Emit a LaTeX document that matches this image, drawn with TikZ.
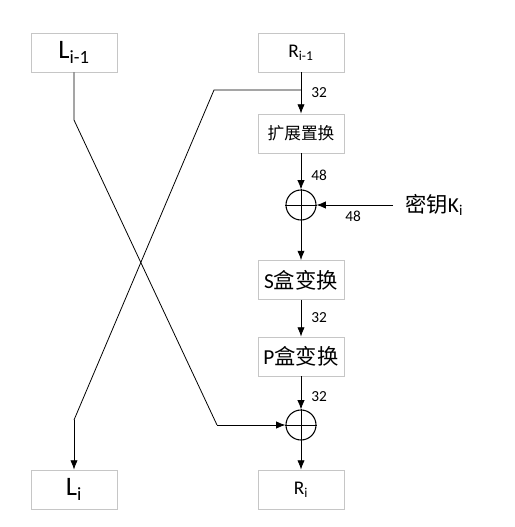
\documentclass[tikz,border=0pt]{standalone}
\usepackage{fontspec}
\setmainfont{Carlito}
\newfontfamily\cjk{Noto Sans CJK SC}
\usetikzlibrary{arrows.meta}
\begin{document}
\begin{tikzpicture}[x=0.75pt,y=-0.75pt,
    box/.style={draw=gray!45,line width=0.6pt,minimum width=64.5pt,minimum height=29.25pt,inner sep=0pt},
    xor/.style={circle,draw,line width=0.8pt,minimum size=22.5pt,inner sep=0pt},
    flow/.style={line width=0.6pt,-{Latex[length=7pt,width=5.5pt]}},
    wire/.style={line width=0.6pt},
    bits/.style={font=\fontsize{11.5}{13}\selectfont,inner sep=0pt,anchor=west}]
        \useasboundingbox (0,0) rectangle (514,527);
        \pgfmathsetmacro{\leftX}{74}
        \pgfmathsetmacro{\rightX}{301}
        \node[box,font=\fontsize{20}{22}\selectfont] (Lprev) at (\leftX,52.5) {L\textsubscript{i-1}};
        \node[box,font=\fontsize{14.5}{16}\selectfont] (Rprev) at (\rightX,52.5) {R\textsubscript{i-1}};
        \node[box,font=\cjk\fontsize{12.5}{14}\selectfont] (expand) at (\rightX,133.5) {扩展置换};
        \node[xor] (xorK) at (\rightX,205) {};
        \node[box,font=\fontsize{16}{18}\selectfont] (sbox) at (\rightX,280) {S{\cjk 盒变换}};
        \node[box,font=\fontsize{16}{18}\selectfont] (pbox) at (\rightX,356.5) {P{\cjk 盒变换}};
        \node[xor] (xorL) at (\rightX,425) {};
        \node[box,font=\fontsize{20}{22}\selectfont] (Lnext) at (\leftX,489.5) {L\textsubscript{i}};
        \node[box,font=\fontsize{14.5}{16}\selectfont] (Rnext) at (\rightX,489.5) {R\textsubscript{i}};
        \node[anchor=west,inner xsep=9pt,inner ysep=0pt,font=\fontsize{16}{18}\selectfont] (key) at (393,205) {{\cjk 密钥}K\textsubscript{i}};
        \coordinate (split) at (\rightX,90);
        \coordinate (crossR) at (214,90);
        \coordinate (crossRlow) at (\leftX,420);
        \coordinate (crossL) at (\leftX,120);
        \coordinate (crossLlow) at (217,425);
        % plus signs
        \draw[wire] (xorK.west) -- (xorK.east);
        \draw[wire] (xorL.west) -- (xorL.east);
        % right branch
        \draw[flow] (Rprev) -- (expand);
        \draw[flow] (expand) -- (xorK.north);
        \draw[wire] (xorK.north) -- (xorK.south);
        \draw[flow] (key.west) -- (xorK.east);
        \draw[flow] (xorK.south) -- (sbox);
        \draw[flow] (sbox) -- (pbox);
        \draw[flow] (pbox) -- (xorL.north);
        \draw[wire] (xorL.north) -- (xorL.south);
        \draw[flow] (xorL.south) -- (Rnext);
        % crossing
        \draw[wire] (split) -- (crossR) -- (crossRlow);
        \draw[flow] (crossRlow) -- (Lnext);
        \draw[wire] (Lprev) -- (crossL) -- (crossLlow);
        \draw[flow] (crossLlow) -- (xorL.west);
        % widths
        \node[bits] (w1) at (311,93) {32};
        \node[bits] (w2) at (311,175) {48};
        \node[bits] (w3) at (345,216) {48};
        \node[bits] (w4) at (311,318) {32};
        \node[bits] (w5) at (311,397) {32};
      \end{tikzpicture}
\end{document}
